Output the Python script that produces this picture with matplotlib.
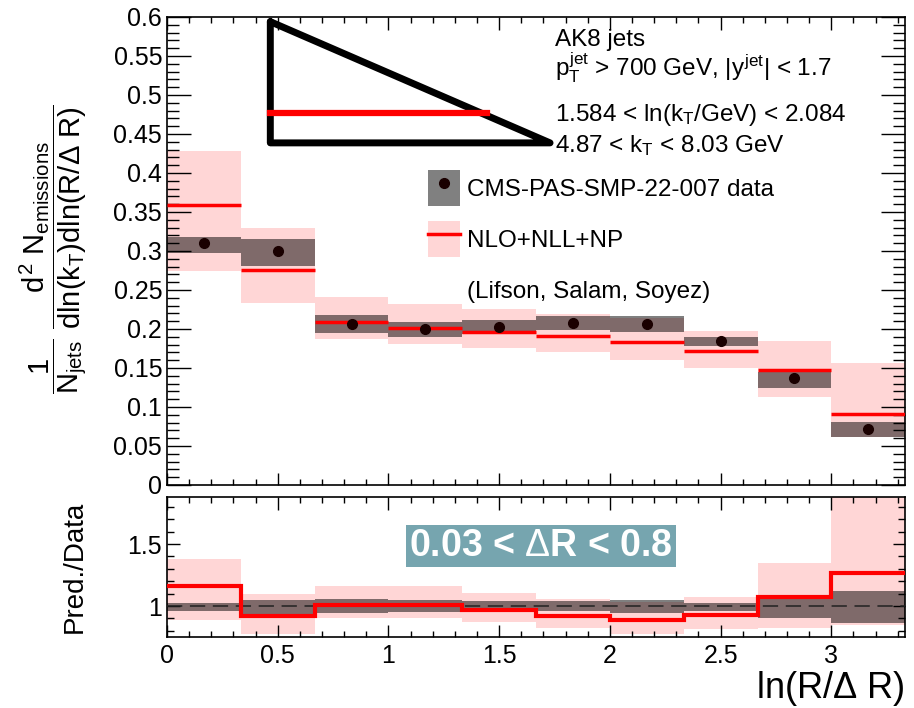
import numpy as np
import matplotlib
matplotlib.use('Agg')
import matplotlib.pyplot as plt
from matplotlib.patches import Patch
from matplotlib.lines import Line2D
from matplotlib.ticker import MultipleLocator, FuncFormatter

plt.rcParams['font.family'] = ['Liberation Sans', 'DejaVu Sans']
plt.rcParams['mathtext.fontset'] = 'custom'
plt.rcParams['mathtext.rm'] = 'Liberation Sans'
plt.rcParams['mathtext.it'] = 'Liberation Sans'
plt.rcParams['mathtext.bf'] = 'Liberation Sans:bold'

# bin edges in ln(R/dR)
edges = np.array([0, 0.333, 0.667, 1.0, 1.333, 1.667, 2.0, 2.333, 2.667, 3.0, 3.333])

# CMS data (central, band low, band high)
data    = np.array([0.310, 0.300, 0.207, 0.200, 0.203, 0.208, 0.207, 0.185, 0.137, 0.072])
data_lo = np.array([0.298, 0.281, 0.195, 0.190, 0.193, 0.199, 0.196, 0.178, 0.124, 0.062])
data_hi = np.array([0.318, 0.315, 0.218, 0.209, 0.211, 0.217, 0.217, 0.190, 0.145, 0.081])

# NLO+NLL+NP prediction
theory    = np.array([0.359, 0.275, 0.209, 0.201, 0.196, 0.191, 0.183, 0.172, 0.147, 0.091])
theory_lo = np.array([0.274, 0.233, 0.187, 0.181, 0.176, 0.171, 0.160, 0.150, 0.113, 0.061])
theory_hi = np.array([0.428, 0.329, 0.241, 0.232, 0.225, 0.219, 0.214, 0.198, 0.185, 0.157])

pink = '#ffd6d6'
widths = np.diff(edges)
centers = edges[:-1] + widths / 2

fig = plt.figure(figsize=(9.14, 7.08), dpi=100)
ax = fig.add_axes([0.1827, 0.315, 0.8075, 0.661])
ax2 = fig.add_axes([0.1827, 0.1003, 0.8075, 0.1977])

# --- main panel
ax.bar(edges[:-1], theory_hi - theory_lo, widths, bottom=theory_lo, align='edge',
       color=pink, linewidth=0, zorder=1)
ax.bar(edges[:-1], data_hi - data_lo, widths, bottom=data_lo, align='edge',
       color='black', alpha=0.5, linewidth=0, zorder=2)
ax.hlines(theory, edges[:-1], edges[1:], color='red', linewidth=2.5, zorder=3)
ax.plot(centers, data, 'o', color='#1a0000', markersize=7, zorder=4)

ax.set_xlim(edges[0], edges[-1])
ax.set_ylim(0, 0.6)

# --- ratio panel
ax2.bar(edges[:-1], (theory_hi - theory_lo) / data, widths, bottom=theory_lo / data,
        align='edge', color=pink, linewidth=0, zorder=1)
ax2.bar(edges[:-1], (data_hi - data_lo) / data, widths, bottom=data_lo / data,
        align='edge', color='black', alpha=0.5, linewidth=0, zorder=2)
ax2.axhline(1, color='#222222', linewidth=1.1, dashes=(10, 5), zorder=3)
ax2.stairs(theory / data, edges, color='red', linewidth=3, baseline=None, zorder=4)
ax2.set_xlim(edges[0], edges[-1])
ax2.set_ylim(0.75, 1.88)

fmt = FuncFormatter(lambda v, p: '%g' % round(v, 3))
for a in (ax, ax2):
    a.xaxis.set_major_locator(MultipleLocator(0.5))
    a.xaxis.set_minor_locator(MultipleLocator(0.1))
    a.tick_params(which='both', direction='in', top=True, right=True, width=1,
                  labelsize=18)
    a.tick_params(axis='x', which='major', length=9)
    a.tick_params(axis='x', which='minor', length=4.5)
    for s in a.spines.values():
        s.set_linewidth(1.2)
    a.xaxis.set_major_formatter(fmt)
    a.yaxis.set_major_formatter(fmt)

ax.yaxis.set_major_locator(MultipleLocator(0.05))
ax.yaxis.set_minor_locator(MultipleLocator(0.01))
ax.tick_params(axis='y', which='major', length=17)
ax.tick_params(axis='y', which='minor', length=8.5)
ax.tick_params(axis='x', labelbottom=False)

ax2.yaxis.set_major_locator(MultipleLocator(0.5))
ax2.yaxis.set_minor_locator(MultipleLocator(0.1))
ax2.tick_params(axis='y', which='major', length=9)
ax2.tick_params(axis='y', which='minor', length=5)
ax2.tick_params(axis='x', pad=5)

# axis titles
fig.text(0.058, 0.648,
         r'$\dfrac{1}{N_{jets}}\ \dfrac{d^{2}\ N_{emissions}}{dln(k_{T})dln(R/\Delta\ R)}$',
         rotation=90, ha='center', va='center', fontsize=21)
fig.text(0.082, 0.199, 'Pred./Data', rotation=90, ha='center', va='center', fontsize=20)
fig.text(0.99, 0.028, r'ln(R/$\Delta$ R)', ha='right', va='center', fontsize=26)

# Lund-plane sketch
tri_x = [0.140, 0.140, 0.519, 0.140]
tri_y = [0.990, 0.731, 0.731, 0.990]
ax.plot(tri_x, tri_y, color='black', linewidth=5, transform=ax.transAxes,
        solid_joinstyle='round', solid_capstyle='round', clip_on=False, zorder=5)
ax.plot([0.140, 0.434], [0.795, 0.795], color='red', linewidth=4.5,
        transform=ax.transAxes, zorder=6)

# cut labels
ax.text(0.526, 0.950, 'AK8 jets', transform=ax.transAxes, fontsize=17.5, va='center')
ax.text(0.526, 0.891, r'$p_{T}^{jet}$ > 700 GeV, $|y^{jet}|$ < 1.7',
        transform=ax.transAxes, fontsize=17.5, va='center')
ax.text(0.526, 0.790, r'1.584 < ln($k_{T}$/GeV) < 2.084',
        transform=ax.transAxes, fontsize=17.5, va='center')
ax.text(0.526, 0.726, r'4.87 < $k_{T}$ < 8.03 GeV',
        transform=ax.transAxes, fontsize=17.5, va='center')

# legend
h_data = (Patch(facecolor='#808080', edgecolor='none'),
          Line2D([], [], marker='o', color='#1a0000', linestyle='none', markersize=7))
h_th = (Patch(facecolor=pink, edgecolor='none'),
        Line2D([], [], color='red', linewidth=2.5))
h_none = Patch(facecolor='none', edgecolor='none')
ax.legend([h_data, h_th, h_none],
          ['CMS-PAS-SMP-22-007 data', 'NLO+NLL+NP', '(Lifson, Salam, Soyez)'],
          loc='upper left', bbox_to_anchor=(0.341, 0.693), frameon=False,
          fontsize=17.5, handlelength=1.3, handleheight=1.9, handletextpad=0.3,
          labelspacing=0.62, borderaxespad=0)

# delta R range tag
ax2.text(0.507, 0.65, r'0.03 < $\Delta$R < 0.8', transform=ax2.transAxes,
         fontsize=27, fontweight='bold', color='white', ha='center', va='center',
         family=['Liberation Sans', 'DejaVu Sans'],
         bbox=dict(boxstyle='square,pad=0.08', facecolor='#76a5af', edgecolor='none'),
         zorder=10)

fig.savefig('out.png', dpi=100)
